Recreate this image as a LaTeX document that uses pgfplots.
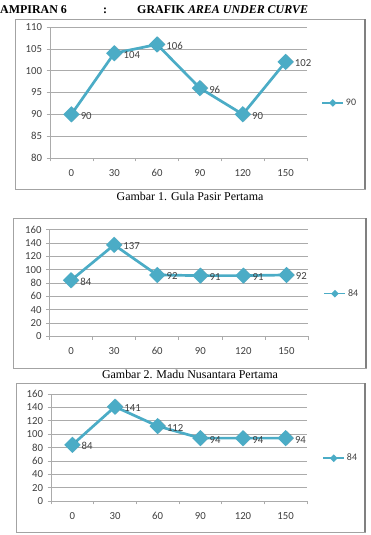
\documentclass[border=0pt]{standalone}
\usepackage{pgfplots}
\pgfplotsset{compat=1.18}
\usepackage{fontspec}
\setmainfont{Liberation Serif}
\newfontfamily\calibri{Carlito}

\definecolor{linecol}{HTML}{4BACC6}
\definecolor{gridcol}{HTML}{ABABAB}
\definecolor{labelcol}{HTML}{404040}
\definecolor{framecol}{HTML}{A3A3A3}

% AUC data: minutes 0..150 at category positions 0..5
\pgfplotstableread{
pos value
0 90
1 104
2 106
3 96
4 90
5 102
}\gulapasir
\pgfplotstableread{
pos value
0 84
1 137
2 92
3 91
4 91
5 92
}\madunusantara
\pgfplotstableread{
pos value
0 84
1 141
2 112
3 94
4 94
5 94
}\ketiga

\pgfplotsset{
  /pgf/number format/assume math mode=true,
  legend image code/.code={%
    \draw[mark repeat=2,mark phase=2,#1] plot coordinates {(0bp,0bp) (10.5bp,0bp) (21bp,0bp)};%
  },
  auc/.style={
    scale only axis,
    anchor=south west,
    xmin=-0.5, xmax=5.5,
    xtick={0,...,5},
    xticklabels={0,30,60,90,120,150},
    minor xtick={-0.5,0.5,...,5.5},
    major x tick style={draw=none},
    minor x tick style={draw=gridcol, line width=0.6bp},
    axis x line*=bottom, axis y line*=left,
    axis line style={draw=gridcol, line width=0.8bp, -},
    ymajorgrids,
    major grid style={draw=gridcol, line width=0.6bp},
    tick align=outside,
    major tick length=3.5bp, minor tick length=3.5bp,
    ytick style={draw=gridcol, line width=0.6bp},
    tick label style={font=\calibri\fontsize{10.8}{12}\selectfont, text=labelcol},
    xticklabel style={yshift=-4bp, text height=7bp, text depth=0pt},
    yticklabel style={xshift=-1bp},
    clip=false,
    legend style={draw=none, fill=none, anchor=west,
      font=\calibri\fontsize{10}{11}\selectfont, text=labelcol,
      inner sep=0pt},
    legend image post style={line width=1.4bp, mark size=2bp},
  },
  aucline/.style={
    linecol, line width=2.7bp,
    mark=square*, mark size=4.4bp,
    mark options={rotate=45, solid, fill=linecol},
    nodes near coords,
    every node near coord/.append style={
      anchor=west, xshift=7bp, yshift=-1.5bp, inner sep=1bp,
      font=\calibri\fontsize{10.8}{12}\selectfont, text=labelcol},
  },
  aucshadow/.style={
    forget plot, only marks,
    mark=square*, mark size=5bp,
    mark options={rotate=45, draw=none, fill=black, opacity=0.15,
      xshift=0.8bp, yshift=-0.8bp},
  },
}

\begin{document}
\begin{tikzpicture}[x=1bp, y=1bp]
\path[use as bounding box] (0,0) rectangle (370,535);

% page heading
\node[anchor=base west, inner sep=0pt, font=\fontsize{12}{14}\selectfont\bfseries] at (0,521.5) {AMPIRAN 6};
\node[anchor=base west, inner sep=0pt, font=\fontsize{12}{14}\selectfont\bfseries] at (103,521.5) {:};
\node[anchor=base west, inner sep=0pt, font=\fontsize{12}{14}\selectfont\bfseries] at (137,521.5) {GRAFIK \textit{AREA UNDER CURVE}};

% chart frames
\draw[framecol, line width=0.8bp] (15,346) rectangle (365,516);
\draw[framecol, line width=0.8bp] (13,167) rectangle (366,317);
\draw[framecol, line width=0.8bp] (16,3) rectangle (365,152);
\draw[gray, line width=1.2bp] (365,346) -- (365,516);
\draw[gray, line width=1.2bp] (366,167) -- (366,317);
\draw[gray, line width=1.2bp] (365,3) -- (365,152);

% Gambar 1
\begin{axis}[auc, at={(50bp,377bp)}, width=257bp, height=131bp,
  ymin=80, ymax=110, ytick={80,85,...,110},
  legend style={at={(1.056,0.42)}}]
\addplot[aucshadow] table[x=pos, y=value] {\gulapasir};
\addplot[aucline] table[x=pos, y=value] {\gulapasir};
\addlegendentry{90}
\end{axis}
\node[anchor=base, inner sep=0pt, font=\fontsize{12}{14}\selectfont] at (190,334) {Gambar 1. Gula Pasir Pertama};

% Gambar 2
\begin{axis}[auc, at={(49.5bp,198.5bp)}, width=258.5bp, height=107bp,
  ymin=0, ymax=160, ytick={0,20,...,160},
  legend style={at={(1.06,0.40)}}]
\addplot[aucshadow] table[x=pos, y=value] {\madunusantara};
\addplot[aucline] table[x=pos, y=value] {\madunusantara};
\addlegendentry{84}
\end{axis}
\node[anchor=base, inner sep=0pt, font=\fontsize{12}{14}\selectfont] at (190,156.5) {Gambar 2. Madu Nusantara Pertama};

% third chart
\begin{axis}[auc, at={(51bp,34bp)}, width=256bp, height=107bp,
  ymin=0, ymax=160, ytick={0,20,...,160},
  legend style={at={(1.06,0.40)}}]
\addplot[aucshadow] table[x=pos, y=value] {\ketiga};
\addplot[aucline] table[x=pos, y=value] {\ketiga};
\addlegendentry{84}
\end{axis}
\end{tikzpicture}
\end{document}
